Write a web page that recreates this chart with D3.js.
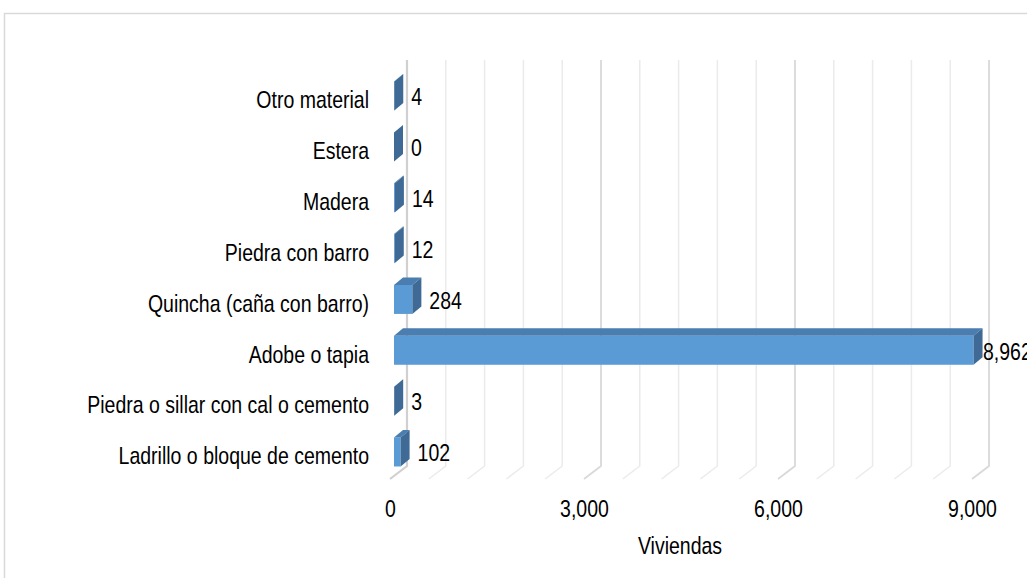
<!DOCTYPE html>
<html>
<head>
<meta charset="utf-8">
<script src="https://cdn.jsdelivr.net/npm/d3@7"></script>
<style>
  body { margin: 0; background: #fff; }
  svg text { font-family: "Liberation Sans", Arial, sans-serif; fill: #000; }
</style>
</head>
<body>
<div id="chart"></div>
<script>
// data, top to bottom as shown
const categories = [
  "Otro material",
  "Estera",
  "Madera",
  "Piedra con barro",
  "Quincha (caña con barro)",
  "Adobe o tapia ",
  "Piedra o sillar con cal o cemento",
  "Ladrillo o bloque de cemento"
];
const viviendas = [4, 0, 14, 12, 284, 8962, 3, 102];
const tickValues = [0, 3000, 6000, 9000];
const gridValues = d3.range(0, 9001, 600);
const axisTitle = "Viviendas";

const width = 1027, height = 578;
const fontSize = 19.5;
const stretch = 1.22;                 // text in the source is drawn taller than wide
const depth = { dx: 9, dy: 7.5 };     // bar 3d offset
const floor = { dx: -17, dy: 13 };    // gridline floor offset
const barH = 29;

const data = categories.map((c, i) => ({ cat: c, value: viviendas[i] }));

const svg = d3.select("#chart")
  .append("svg")
  .attr("width", width)
  .attr("height", height);

// chart area border
svg.append("rect")
  .attr("x", 4.5)
  .attr("y", 13.5)
  .attr("width", width + 10)
  .attr("height", height + 10)
  .attr("fill", "#fff")
  .attr("stroke", "#d9d9d9")
  .attr("stroke-width", 1.5);

// back wall scale, front (bar) scale, and tick label scale
const xBack = d3.scaleLinear().domain([0, 9000]).range([407, 989]);
const xFront = d3.scaleLinear().domain([0, 9000]).range([394, 976]);
const xLabel = d3.scaleLinear().domain([0, 9000]).range([390, 972]);

const y = d3.scaleBand()
  .domain(categories)
  .range([74.6, 481.4]);

const gridTop = 60, gridBottom = 466;

// stretched text helper
function label(g, x, yy, txt, anchor) {
  return g.append("text")
    .attr("transform", `translate(${x},${yy}) scale(1,${stretch})`)
    .attr("dy", "0.35em")
    .attr("text-anchor", anchor || "start")
    .style("font-size", fontSize + "px")
    .text(txt);
}

// gridlines: vertical on back wall, then down to the floor edge
svg.append("g")
  .attr("class", "grid")
  .selectAll("path")
  .data(gridValues)
  .join("path")
  .attr("d", v => {
    const x = xBack(v);
    return `M${x},${gridTop}V${gridBottom}L${x + floor.dx},${gridBottom + floor.dy}`;
  })
  .attr("fill", "none")
  .attr("stroke", v => v === 0 ? "#d0d0d0" : (v % 3000 === 0 ? "#d9d9d9" : "#ebebeb"))
  .attr("stroke-width", v => v === 0 ? 2.2 : (v % 3000 === 0 ? 1.8 : 1.5));

// category labels
const catG = svg.append("g");
categories.forEach(c => label(catG, 369, y(c) + y.bandwidth() / 2, c, "end"));

// bars
const bar = svg.append("g")
  .attr("class", "bars")
  .selectAll("g")
  .data(data)
  .join("g");

const yc = d => y(d.cat) + y.bandwidth() / 2 - 4;

bar.append("rect")
  .attr("x", xFront(0))
  .attr("y", d => yc(d) - barH / 2)
  .attr("width", d => xFront(d.value) - xFront(0))
  .attr("height", barH)
  .attr("fill", "#5b9bd5");

bar.append("path")
  .attr("d", d => {
    const t = yc(d) - barH / 2, x0 = xFront(0), x1 = xFront(d.value);
    return `M${x0},${t}L${x1},${t}L${x1 + depth.dx},${t - depth.dy}L${x0 + depth.dx},${t - depth.dy}Z`;
  })
  .attr("fill", "#4a7db0");

bar.append("path")
  .attr("d", d => {
    const t = yc(d) - barH / 2, b = t + barH, x1 = xFront(d.value);
    return `M${x1},${t}L${x1 + depth.dx},${t - depth.dy}L${x1 + depth.dx},${b - depth.dy}L${x1},${b}Z`;
  })
  .attr("fill", "#3e6a95");

// value labels
bar.each(function (d) {
  label(d3.select(this), Math.min(xFront(d.value) + 17, width - 44), yc(d) + 1, d3.format(",")(d.value));
});

// x axis tick labels
const xAxis = d3.axisBottom(xLabel)
  .tickValues(tickValues)
  .tickFormat(d3.format(","))
  .tickSize(0)
  .tickPadding(0);

svg.append("g")
  .attr("class", "x-axis")
  .attr("transform", "translate(0,500)")
  .call(xAxis)
  .call(g => g.select(".domain").remove())
  .call(g => g.selectAll("text")
    .attr("transform", `scale(1,${stretch})`)
    .style("font-size", fontSize + "px")
    .style("font-family", "'Liberation Sans', Arial, sans-serif")
    .attr("fill", "#000"));

label(svg, 680, 546, axisTitle, "middle");
</script>
</body>
</html>
